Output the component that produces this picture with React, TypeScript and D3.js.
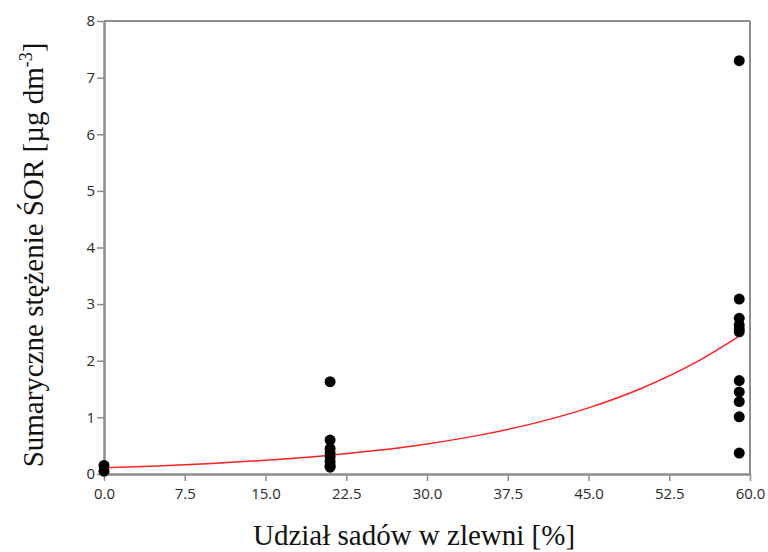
import * as d3 from "d3";
import { useEffect, useRef } from "react";

const width = 768;
const height = 552;

// share of orchards in catchment [%] and summed concentration [µg dm-3]
const xs0 = [0, 0];
const ys0 = [0.15, 0.05];
const xs21 = [21, 21, 21, 21, 21, 21, 21, 21];
const ys21 = [1.63, 0.6, 0.45, 0.37, 0.3, 0.22, 0.15, 0.12];
const xs59 = [59, 59, 59, 59, 59, 59, 59, 59, 59, 59, 59];
const ys59 = [7.3, 3.09, 2.75, 2.63, 2.56, 2.51, 1.65, 1.45, 1.28, 1.01, 0.37];

// exponential fit y = a * exp(b * x)
const fitA = 0.11;
const fitB = 0.0525;
const fitSteps = [0, 5, 10, 15, 20, 25, 30, 35, 40, 45, 50, 55, 59];

const xTicks = [0, 7.5, 15, 22.5, 30, 37.5, 45, 52.5, 60];
const yTicks = [0, 1, 2, 3, 4, 5, 6, 7, 8];

const xLabel = "Udział sadów w zlewni [%]";
const yLabel = "Sumaryczne stężenie ŚOR [µg dm";

const App = () => {
  const ref = useRef<SVGSVGElement>(null);

  useEffect(() => {
    document.body.style.margin = "0";
    const svg = d3.select(ref.current);
    svg.selectAll("*").remove();

    const x = d3.scaleLinear().domain([0, 60]).range([104, 750]);
    const y = d3.scaleLinear().domain([0, 8]).range([474, 21]);
    const axisColor = "#8c8c8c";

    const points = [
      ...xs0.map((v, i) => [v, ys0[i]]),
      ...xs21.map((v, i) => [v, ys21[i]]),
      ...xs59.map((v, i) => [v, ys59[i]]),
    ];

    // frame top/right
    svg.append("line").attr("x1", x(0)).attr("x2", x(60)).attr("y1", y(8)).attr("y2", y(8))
      .attr("stroke", axisColor).attr("stroke-width", 2);
    svg.append("line").attr("x1", x(60)).attr("x2", x(60)).attr("y1", y(8)).attr("y2", y(0))
      .attr("stroke", axisColor).attr("stroke-width", 2);

    const xAxis = svg.append("g").attr("transform", `translate(0,${y(0)})`)
      .call(d3.axisBottom(x).tickValues(xTicks).tickFormat(d3.format(".1f")).tickSize(7).tickSizeOuter(0));
    const yAxis = svg.append("g").attr("transform", `translate(${x(0)},0)`)
      .call(d3.axisLeft(y).tickValues(yTicks).tickFormat(d3.format("d")).tickSize(7).tickSizeOuter(0));

    [xAxis, yAxis].forEach((g) => {
      g.select(".domain").attr("stroke", axisColor).attr("stroke-width", 2.5);
      g.selectAll(".tick line").attr("stroke", axisColor).attr("stroke-width", 1.5);
      g.selectAll(".tick text").attr("fill", "#2a2a2a")
        .style("font-family", "'Open Sans', 'Noto Sans', sans-serif").style("font-size", "15px");
    });
    xAxis.selectAll(".tick text").attr("dy", "1.0em");
    yAxis.selectAll(".tick text").attr("x", -9);

    const line = d3.line<number>().x((d) => x(d)).y((d) => y(fitA * Math.exp(fitB * d))).curve(d3.curveMonotoneX);
    svg.append("path").attr("d", line(fitSteps)).attr("fill", "none").attr("stroke", "#ff2020").attr("stroke-width", 1.5);

    svg.append("g").selectAll("circle").data(points).enter().append("circle")
      .attr("cx", (d) => x(d[0])).attr("cy", (d) => y(d[1])).attr("r", 5.5).attr("fill", "#000");

    const serif = "'Liberation Serif', 'Times New Roman', serif";
    svg.append("text").attr("x", 414).attr("y", 545).attr("text-anchor", "middle")
      .style("font-family", serif).style("font-size", "29px").attr("fill", "#111").text(xLabel);

    const yl = svg.append("text").attr("transform", "translate(43,255) rotate(-90)").attr("text-anchor", "middle")
      .style("font-family", serif).style("font-size", "29px").attr("fill", "#111");
    yl.append("tspan").text(yLabel);
    yl.append("tspan").attr("dy", -11).style("font-size", "18px").text("-3");
    yl.append("tspan").attr("dy", 11).text("]");
  }, []);

  return <svg ref={ref} width={width} height={height} style={{ display: "block", background: "#fff" }} />;
};

export default App;
